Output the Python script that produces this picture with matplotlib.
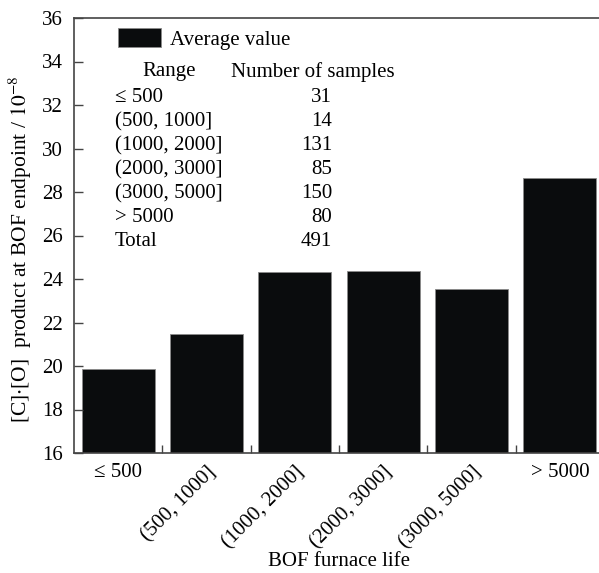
import matplotlib.pyplot as plt
import numpy as np

plt.rcParams['font.family'] = ['Liberation Serif', 'DejaVu Serif']
plt.rcParams['mathtext.fontset'] = 'stix'

# average [C]·[O] per furnace-life range
ranges = ['≤ 500', '(500, 1000]', '(1000, 2000]', '(2000, 3000]', '(3000, 5000]', '> 5000']
avg_co = [19.86, 21.49, 24.31, 24.35, 23.53, 28.63]
n_samples = [31, 14, 131, 85, 150, 80]
total = 491

fig = plt.figure(figsize=(5.99, 5.73), dpi=100)
ax = fig.add_axes([74 / 599, 1 - 453 / 573, 530 / 599, 435 / 573])

x = np.arange(len(ranges))
ax.bar(x, avg_co, width=0.83, color='#0a0c0d', edgecolor='#8a8a8a',
       linewidth=0.6, label='Average value')

ax.set_xlim(-0.5, len(ranges) - 0.5)
ax.set_ylim(16, 36)
ax.set_yticks(np.arange(16, 37, 2))

ax.set_xticks(x)
ax.set_xticks(x[:-1] + 0.5, minor=True)
ax.tick_params(axis='x', which='major', length=0, pad=7, labelsize=15)
ax.tick_params(axis='x', which='minor', direction='in', length=6, width=1, color='#444')
ax.tick_params(axis='y', direction='in', length=6.5, width=1, color='#444', labelsize=15, pad=8)
ax.set_xticklabels(ranges)
for i, lab in enumerate(ax.get_xticklabels()):
    if 0 < i < len(ranges) - 1:
        lab.set_rotation(45)
        lab.set_ha('right')
        lab.set_va('top')
        lab.set_rotation_mode('anchor')

for s in ['top', 'bottom', 'left']:
    ax.spines[s].set_color('#444')
    ax.spines[s].set_linewidth(1.2)
ax.spines['right'].set_visible(False)

ax.set_xlabel('BOF furnace life', fontsize=15, va='center')
ax.xaxis.set_label_coords(0.5, -0.25)
ax.set_ylabel(r'[C]$\cdot$[O]  product at BOF endpoint / $10^{-8}$', fontsize=15.5, va='center')
ax.yaxis.set_label_coords(-0.102, 0.469)

ax.legend(loc='upper left', bbox_to_anchor=(0.047, 1.019), frameon=False, fontsize=15,
          handlelength=2.1, handleheight=1.0, handletextpad=0.4)

# sample count table
ax.text(0.179, 0.876, 'Range', transform=ax.transAxes, ha='center', va='center', fontsize=15)
ax.text(0.45, 0.876, 'Number of samples', transform=ax.transAxes, ha='center', va='center', fontsize=15)
rows = ranges + ['Total']
counts = n_samples + [total]
for i, (r, n) in enumerate(zip(rows, counts)):
    yy = 0.817 - i * 0.0552
    ax.text(0.0774, yy, r, transform=ax.transAxes, ha='left', va='center', fontsize=15)
    ax.text(0.487, yy, str(n), transform=ax.transAxes, ha='right', va='center', fontsize=15)

fig.savefig('out.png', dpi=100)
